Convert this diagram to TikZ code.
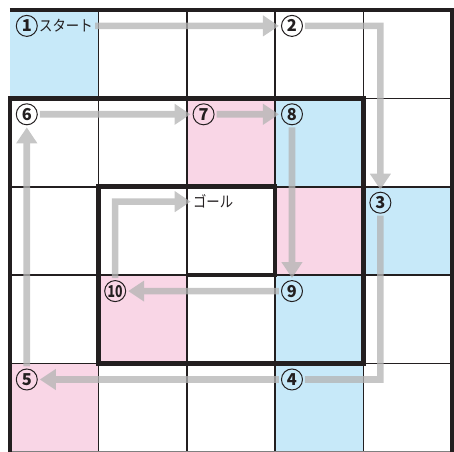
\documentclass[tikz,border=0pt]{standalone}
\usepackage{fontspec}
\setmainfont{Noto Sans CJK JP}
\usetikzlibrary{arrows.meta,positioning}
\definecolor{cellblue}{RGB}{199,233,249}
\definecolor{cellpink}{RGB}{249,214,230}
\definecolor{gridblack}{RGB}{35,31,32}
\definecolor{flowgray}{RGB}{180,180,180}

\begin{document}
\begin{tikzpicture}[x=44.2pt,y=-44.2pt,>={Triangle[length=8pt,width=10pt]},
  every node/.style={font=\fontsize{8.2}{9}\selectfont\bfseries,inner sep=0pt,text=gridblack},
  num/.style={circle,draw=gridblack,line width=0.5pt,minimum size=10.5pt},
  label/.style={anchor=west,font=\fontsize{7.6}{8}\selectfont},
  flow/.style={flowgray,line width=3.3pt,shorten <=1pt,shorten >=1pt}]
  \useasboundingbox (-0.113,-0.113) rectangle (5.023,5.0);
  % coloured cells
  \foreach \c/\r in {0/0,3/1,4/2,3/3,3/4} \fill[cellblue] (\c,\r) rectangle ++(1,1);
  \foreach \c/\r in {2/1,3/2,1/3,0/4} \fill[cellpink] (\c,\r) rectangle ++(1,1);
  % grid
  \foreach \i in {1,...,4}{
    \draw[gridblack,line width=0.85pt] (\i,0)--(\i,5);
    \draw[gridblack,line width=0.85pt] (0,\i)--(5,\i);}
  \draw[gray,line width=0.6pt] (0,5)--(5,5);
  \draw[gridblack,line width=2pt] (0,0)--(5,0)--(5,5);
  \draw[gridblack,line width=2.3pt] (0,5)--(0,1)--(4,1)--(4,4)--(1,4)--(1,2)--(3,2)--(3,3)--(2,3);
  % numbers
  \foreach \n/\c/\r in {1/0/0,2/3/0,3/4/2,4/3/4,5/0/4,6/0/1,7/2/1,8/3/1,9/3/3}
    \node[num] (n\n) at (\c+0.19,\r+0.18) {\n};
  \node[num] (n10) at (1.19,3.18) {\scalebox{0.75}[1]{10}};
  \node[label] (start) at ([xshift=0.5pt]n1.east) {\scalebox{0.88}[1]{スタート}};
  \node[label] (goal) at (2.067,2.168) {\scalebox{0.88}[1]{ゴール}};
  % route
  \begin{scope}[transparency group,opacity=0.76]
    \draw[flow,->] (start) -- (n2);
    \draw[flow,->] (n2) -| (n3);
    \draw[flow] (n3) |- (n4);
    \draw[flow,->] (n4) -- (n5);
    \draw[flow,->] (n5) -- (n6);
    \draw[flow,->] (n6) -- (n7);
    \draw[flow,->] (n7) -- (n8);
    \draw[flow,->] (n8) -- (n9);
    \draw[flow,->] (n9) -- (n10);
    \draw[flow,->] (n10) |- (goal);
  \end{scope}
\end{tikzpicture}
\end{document}
